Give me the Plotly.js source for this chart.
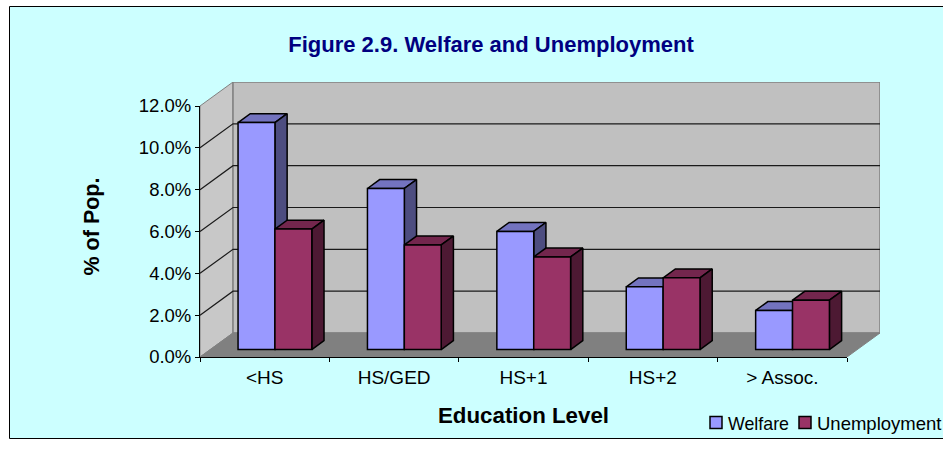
<!DOCTYPE html>
<html>
<head>
<meta charset="utf-8">
<script src="https://cdn.plot.ly/plotly-3.0.1.min.js"></script>
<style>
html,body{margin:0;padding:0;background:#fff;overflow:hidden}
#chart{width:943px;height:452px}
#chart .legendtext,#chart .legend2text{transform:translateX(-8px)}
#chart .g-y2title{transform:translateY(-5px)}
</style>
</head>
<body>
<div id="chart"></div>
<script>
const categories = ['<HS', 'HS/GED', 'HS+1', 'HS+2', '> Assoc.'];
const welfare = [10.85, 7.7, 5.65, 3.0, 1.87];
const unemployment = [5.76, 5.0, 4.43, 3.43, 2.36];
const yTicks = [0, 2, 4, 6, 8, 10, 12];
const welfareColors = {front: '#9999FF', top: '#7373BF', side: '#4D4D80'};
const unemploymentColors = {front: '#993366', top: '#73264D', side: '#4D1933'};

const esc = s => s.replace(/</g, '&lt;').replace(/>/g, '&gt;');
const W = 943, H = 452, L = 200, T = 82, R = 63, B = 95;
const plotW = W - L - R, plotH = H - T - B;
const frontW = 647, frontH = 251;
const nCat = categories.length, yMax = yTicks[yTicks.length - 1];

// oblique projection expressed in axis units
const wallDx = nCat * (plotW / frontW - 1), wallDy = yMax * (plotH / frontH - 1);
const barFront = 0.31, barBack = 0.68, barWidth = 0.285;
const faceDx = (barBack - barFront) * wallDx, faceDy = (barBack - barFront) * wallDy;
const barBase = barFront * wallDy, barShift = barFront * wallDx;

function poly(xs, ys, fill, line, width) {
  return {type: 'scatter', mode: 'lines', x: xs.concat(xs[0]), y: ys.concat(ys[0]), fill: 'toself',
    fillcolor: fill, line: {color: line, width: width}, cliponaxis: false, showlegend: false, hoverinfo: 'skip'};
}
function seg(xs, ys, color, width) {
  return {type: 'scatter', mode: 'lines', x: xs, y: ys, line: {color: color, width: width},
    cliponaxis: false, showlegend: false, hoverinfo: 'skip', connectgaps: false};
}

const traces = [];
// walls and floor
traces.push(poly([0, wallDx, wallDx, 0], [0, wallDy, yMax + wallDy, yMax], '#C8C8C8', '#808080', 1));
traces.push(poly([wallDx, nCat + wallDx, nCat + wallDx, wallDx], [wallDy, wallDy, yMax + wallDy, yMax + wallDy], '#C0C0C0', '#808080', 1.5));
traces.push(poly([0, nCat, nCat + wallDx, wallDx], [0, 0, wallDy, wallDy], '#808080', '#808080', 1));
// grid lines on side wall and back wall
const gx = [], gy = [];
yTicks.slice(1, -1).forEach(v => {
  gx.push(0, wallDx, nCat + wallDx, null);
  gy.push(v, v + wallDy, v + wallDy, null);
});
traces.push(seg(gx, gy, '#1a1a1a', 1.2));

// depth faces of each bar
function faces(left, right, value, c) {
  const top = barBase + value;
  traces.push(poly([left, right, right + faceDx, left + faceDx], [top, top, top + faceDy, top + faceDy], c.top, '#000', 1.5));
  traces.push(poly([right, right + faceDx, right + faceDx, right], [barBase, barBase + faceDy, top + faceDy, top], c.side, '#000', 1.5));
}
const centersW = categories.map((_, i) => i + 0.5 + barShift - barWidth / 2);
const centersU = categories.map((_, i) => i + 0.5 + barShift + barWidth / 2);
categories.forEach((_, i) => {
  faces(centersW[i] - barWidth / 2, centersW[i] + barWidth / 2, welfare[i], welfareColors);
  faces(centersU[i] - barWidth / 2, centersU[i] + barWidth / 2, unemployment[i], unemploymentColors);
});

// front faces: real bars on the front-plane axes, drawn above the depth faces
function bar(name, xs, ys, c, legend) {
  return {type: 'bar', name: name, x: xs, y: ys, base: barBase, width: barWidth, xaxis: 'x2', yaxis: 'y2',
    marker: {color: c.front, line: {color: '#000', width: 1.5}}, cliponaxis: false, legend: legend, hoverinfo: 'x+y'};
}
traces.push(bar('Welfare', centersW, welfare, welfareColors, 'legend'));
traces.push(bar('Unemployment', centersU, unemployment, unemploymentColors, 'legend2'));

const font = 'Liberation Sans, Arial, sans-serif';
const px = x => (x - L) / plotW;
const py = y => 1 - (y - T) / plotH;

const layout = {
  width: W, height: H,
  margin: {l: L, r: R, t: T, b: B, pad: 0, autoexpand: false},
  paper_bgcolor: '#FFFFFF', plot_bgcolor: 'rgba(0,0,0,0)',
  font: {family: font, size: 18.5, color: '#000'},
  title: {text: '<b>Figure 2.9. Welfare and Unemployment</b>', font: {family: font, size: 22, color: '#000080'},
    x: 491 / W, xanchor: 'center', y: 1 - 44 / H, yanchor: 'middle'},
  barmode: 'overlay',
  // wide axes for the 3-D box, hidden
  xaxis: {domain: [0, 1], range: [0, nCat + wallDx], visible: false, fixedrange: true},
  yaxis: {domain: [0, 1], range: [0, yMax + wallDy], visible: false, fixedrange: true},
  // front-plane axes: the ones that are read
  xaxis2: {domain: [0, frontW / plotW], anchor: 'y2', range: [0, nCat], tickmode: 'array',
    tickvals: categories.map((_, i) => i + 0.5), ticktext: categories.map(esc), tickfont: {family: font, size: 19},
    ticks: 'outside', ticklen: 3, tickcolor: 'rgba(0,0,0,0)', showgrid: false, zeroline: false,
    showline: true, linecolor: '#000', linewidth: 1, tickangle: 0, fixedrange: true,
    minor: {tickmode: 'array', tickvals: categories.map((_, i) => i).concat(nCat), ticks: 'outside', ticklen: 4, tickcolor: '#000', tickwidth: 1, showgrid: false},
    title: {text: '<b>Education Level</b>', font: {family: font, size: 22.3}, standoff: 20}},
  yaxis2: {domain: [0, frontH / plotH], anchor: 'x2', range: [0, yMax], tickmode: 'array', tickvals: yTicks,
    ticktext: yTicks.map(v => v.toFixed(1) + '%'),
    ticks: 'outside', ticklen: 4, tickcolor: '#000', showgrid: false, zeroline: false,
    showline: true, linecolor: '#000', linewidth: 1, fixedrange: true,
    title: {text: '<b>% of Pop.</b>', font: {family: font, size: 21.5}, standoff: 33}},
  legend: {x: px(696), xanchor: 'left', y: py(423), yanchor: 'middle', bgcolor: 'rgba(0,0,0,0)', font: {family: font, size: 17.8}},
  legend2: {x: px(785), xanchor: 'left', y: py(423), yanchor: 'middle', bgcolor: 'rgba(0,0,0,0)', font: {family: font, size: 18.5}},
  shapes: [{type: 'rect', xref: 'paper', yref: 'paper', x0: px(9.5), x1: px(960), y0: py(6.5), y1: py(438.5),
    fillcolor: '#CCFFFF', line: {color: '#000', width: 1}, layer: 'below'}]
};

Plotly.newPlot('chart', traces, layout, {displayModeBar: false, staticPlot: true});
</script>
</body>
</html>
